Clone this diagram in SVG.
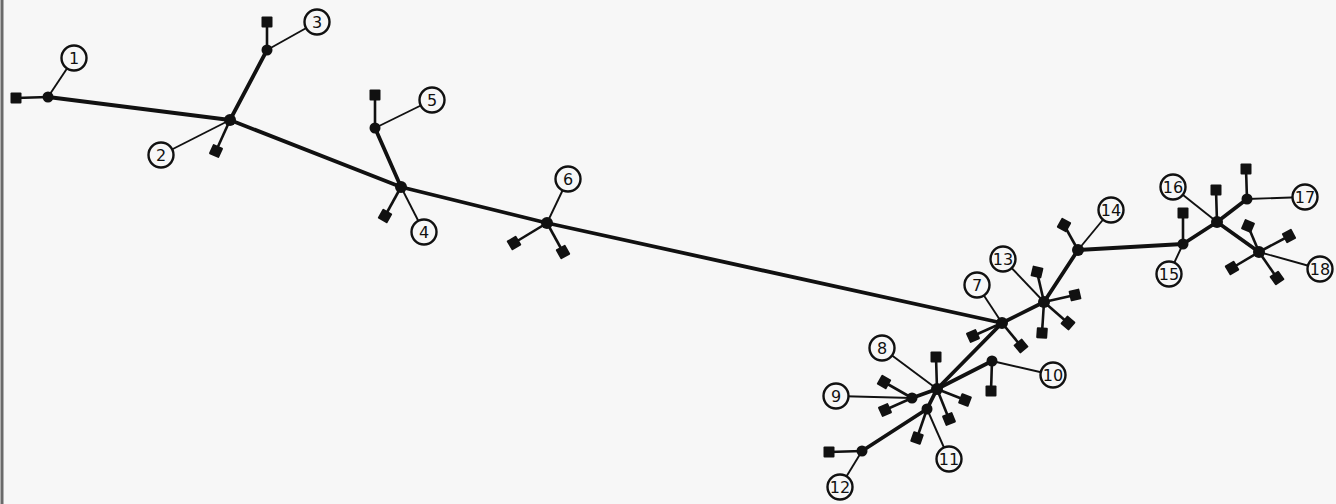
<svg xmlns="http://www.w3.org/2000/svg" xmlns:xlink="http://www.w3.org/1999/xlink" width="1336" height="504" viewBox="0 0 1336 504">
<style>
.bg{fill:#f7f7f7}
.edge{stroke:#6a6a6a;stroke-width:3}
.main{stroke:#111;stroke-width:3.8;stroke-linecap:round;stroke-linejoin:round;fill:none}
.stub{stroke:#111;stroke-width:2.6;fill:none}
.lead{stroke:#111;stroke-width:1.9;fill:none}
.dot{fill:#111}
.sqr{fill:#111}
.lab{fill:#f7f7f7;stroke:#111;stroke-width:2.4}
.num{font-family:"DejaVu Sans","Liberation Sans",sans-serif;font-size:16px;fill:#111;text-anchor:middle;dominant-baseline:central}
</style>
<defs>
<rect id="sq" x="-5.5" y="-5.5" width="11" height="11" rx="1"/>
</defs>
<rect class="bg" x="0" y="0" width="1336" height="504"/>
<line class="edge" x1="2" y1="0" x2="2" y2="504"/>

<g id="connectors">
<polyline class="main" points="48,97 230,120 401,187 547,223 1002,323"/>
<line class="main" x1="230" y1="120" x2="267" y2="50"/>
<line class="main" x1="401" y1="187" x2="375" y2="128"/>
<line class="main" x1="1002" y1="323" x2="937" y2="389"/>
<line class="main" x1="937" y1="389" x2="992" y2="361"/>
<line class="main" x1="937" y1="389" x2="912" y2="398"/>
<polyline class="main" points="937,389 927,409 862,451"/>
<polyline class="main" points="1002,323 1044,302 1078,250 1183,244 1217,222 1247,199"/>
<line class="main" x1="1217" y1="222" x2="1259" y2="252"/>
</g>

<g id="n1">
<line class="lead" x1="48" y1="97" x2="74" y2="58"/>
<line class="stub" x1="48" y1="97" x2="16" y2="98"/>
<use href="#sq" class="sqr" transform="translate(16,98)"/>
<circle class="dot" cx="48" cy="97" r="5.5"/>
<circle class="lab" cx="74" cy="58" r="12.5"/><text class="num" x="74" y="58">1</text>
</g>

<g id="n2">
<line class="lead" x1="230" y1="120" x2="161" y2="155"/>
<line class="stub" x1="230" y1="120" x2="216" y2="151"/>
<use href="#sq" class="sqr" transform="translate(216,151) rotate(24)"/>
<circle class="dot" cx="230" cy="120" r="6"/>
<circle class="lab" cx="161" cy="155" r="12.5"/><text class="num" x="161" y="155">2</text>
</g>

<g id="n3">
<line class="lead" x1="267" y1="50" x2="317" y2="22"/>
<line class="stub" x1="267" y1="50" x2="267" y2="22"/>
<use href="#sq" class="sqr" transform="translate(267,22)"/>
<circle class="dot" cx="267" cy="50" r="5.5"/>
<circle class="lab" cx="317" cy="22" r="12.5"/><text class="num" x="317" y="22">3</text>
</g>

<g id="n4">
<line class="lead" x1="401" y1="187" x2="424" y2="232"/>
<line class="stub" x1="401" y1="187" x2="385" y2="216"/>
<use href="#sq" class="sqr" transform="translate(385,216) rotate(30)"/>
<circle class="dot" cx="401" cy="187" r="6"/>
<circle class="lab" cx="424" cy="232" r="12.5"/><text class="num" x="424" y="232">4</text>
</g>

<g id="n5">
<line class="lead" x1="375" y1="128" x2="432" y2="100"/>
<line class="stub" x1="375" y1="128" x2="375" y2="95"/>
<use href="#sq" class="sqr" transform="translate(375,95)"/>
<circle class="dot" cx="375" cy="128" r="5.5"/>
<circle class="lab" cx="432" cy="100" r="12.5"/><text class="num" x="432" y="100">5</text>
</g>

<g id="n6">
<line class="lead" x1="547" y1="223" x2="568" y2="179"/>
<line class="stub" x1="547" y1="223" x2="514" y2="243"/>
<line class="stub" x1="547" y1="223" x2="563" y2="252"/>
<use href="#sq" class="sqr" transform="translate(514,243) rotate(-31)"/>
<use href="#sq" class="sqr" transform="translate(563,252) rotate(61)"/>
<circle class="dot" cx="547" cy="223" r="6"/>
<circle class="lab" cx="568" cy="179" r="12.5"/><text class="num" x="568" y="179">6</text>
</g>

<g id="n7">
<line class="lead" x1="1002" y1="323" x2="977" y2="285"/>
<line class="stub" x1="1002" y1="323" x2="973" y2="336"/>
<line class="stub" x1="1002" y1="323" x2="1021" y2="346"/>
<use href="#sq" class="sqr" transform="translate(973,336) rotate(-24)"/>
<use href="#sq" class="sqr" transform="translate(1021,346) rotate(50)"/>
<circle class="dot" cx="1002" cy="323" r="6"/>
<circle class="lab" cx="977" cy="285" r="12.5"/><text class="num" x="977" y="285">7</text>
</g>

<g id="n8">
<line class="lead" x1="937" y1="389" x2="882" y2="348"/>
<line class="stub" x1="937" y1="389" x2="936" y2="357"/>
<line class="stub" x1="937" y1="389" x2="965" y2="400"/>
<line class="stub" x1="937" y1="389" x2="949" y2="419"/>
<use href="#sq" class="sqr" transform="translate(936,357)"/>
<use href="#sq" class="sqr" transform="translate(965,400) rotate(21)"/>
<use href="#sq" class="sqr" transform="translate(949,419) rotate(68)"/>
<circle class="dot" cx="937" cy="389" r="6"/>
<circle class="lab" cx="882" cy="348" r="12.5"/><text class="num" x="882" y="348">8</text>
</g>

<g id="n9">
<line class="lead" x1="912" y1="398" x2="836" y2="396"/>
<line class="stub" x1="912" y1="398" x2="884" y2="382"/>
<line class="stub" x1="912" y1="398" x2="885" y2="410"/>
<use href="#sq" class="sqr" transform="translate(884,382) rotate(30)"/>
<use href="#sq" class="sqr" transform="translate(885,410) rotate(66)"/>
<circle class="dot" cx="912" cy="398" r="5.5"/>
<circle class="lab" cx="836" cy="396" r="12.5"/><text class="num" x="836" y="396">9</text>
</g>

<g id="n10">
<line class="lead" x1="992" y1="361" x2="1053" y2="375"/>
<line class="stub" x1="992" y1="361" x2="991" y2="391"/>
<use href="#sq" class="sqr" transform="translate(991,391)"/>
<circle class="dot" cx="992" cy="361" r="5.5"/>
<circle class="lab" cx="1053" cy="375" r="12.5"/><text class="num" x="1053" y="375">10</text>
</g>

<g id="n11">
<line class="lead" x1="927" y1="409" x2="949" y2="459"/>
<line class="stub" x1="927" y1="409" x2="917" y2="438"/>
<use href="#sq" class="sqr" transform="translate(917,438) rotate(19)"/>
<circle class="dot" cx="927" cy="409" r="5.5"/>
<circle class="lab" cx="949" cy="459" r="12.5"/><text class="num" x="949" y="459">11</text>
</g>

<g id="n12">
<line class="lead" x1="862" y1="451" x2="840" y2="487"/>
<line class="stub" x1="862" y1="451" x2="829" y2="452"/>
<use href="#sq" class="sqr" transform="translate(829,452)"/>
<circle class="dot" cx="862" cy="451" r="5.5"/>
<circle class="lab" cx="840" cy="487" r="12.5"/><text class="num" x="840" y="487">12</text>
</g>

<g id="n13">
<line class="lead" x1="1044" y1="302" x2="1003" y2="259"/>
<line class="stub" x1="1044" y1="302" x2="1037" y2="272"/>
<line class="stub" x1="1044" y1="302" x2="1075" y2="295"/>
<line class="stub" x1="1044" y1="302" x2="1068" y2="323"/>
<line class="stub" x1="1044" y1="302" x2="1042" y2="333"/>
<use href="#sq" class="sqr" transform="translate(1037,272) rotate(13)"/>
<use href="#sq" class="sqr" transform="translate(1075,295) rotate(-13)"/>
<use href="#sq" class="sqr" transform="translate(1068,323) rotate(41)"/>
<use href="#sq" class="sqr" transform="translate(1042,333) rotate(4)"/>
<circle class="dot" cx="1044" cy="302" r="6"/>
<circle class="lab" cx="1003" cy="259" r="12.5"/><text class="num" x="1003" y="259">13</text>
</g>

<g id="n14">
<line class="lead" x1="1078" y1="250" x2="1111" y2="210"/>
<line class="stub" x1="1078" y1="250" x2="1064" y2="225"/>
<use href="#sq" class="sqr" transform="translate(1064,225) rotate(29)"/>
<circle class="dot" cx="1078" cy="250" r="6"/>
<circle class="lab" cx="1111" cy="210" r="12.5"/><text class="num" x="1111" y="210">14</text>
</g>

<g id="n15">
<line class="lead" x1="1183" y1="244" x2="1169" y2="274"/>
<line class="stub" x1="1183" y1="244" x2="1183" y2="213"/>
<use href="#sq" class="sqr" transform="translate(1183,213)"/>
<circle class="dot" cx="1183" cy="244" r="5.5"/>
<circle class="lab" cx="1169" cy="274" r="12.5"/><text class="num" x="1169" y="274">15</text>
</g>

<g id="n16">
<line class="lead" x1="1217" y1="222" x2="1173" y2="187"/>
<line class="stub" x1="1217" y1="222" x2="1216" y2="190"/>
<use href="#sq" class="sqr" transform="translate(1216,190)"/>
<circle class="dot" cx="1217" cy="222" r="6"/>
<circle class="lab" cx="1173" cy="187" r="12.5"/><text class="num" x="1173" y="187">16</text>
</g>

<g id="n17">
<line class="lead" x1="1247" y1="199" x2="1305" y2="197"/>
<line class="stub" x1="1247" y1="199" x2="1246" y2="169"/>
<use href="#sq" class="sqr" transform="translate(1246,169)"/>
<circle class="dot" cx="1247" cy="199" r="5.5"/>
<circle class="lab" cx="1305" cy="197" r="12.5"/><text class="num" x="1305" y="197">17</text>
</g>

<g id="n18">
<line class="lead" x1="1259" y1="252" x2="1320" y2="269"/>
<line class="stub" x1="1259" y1="252" x2="1248" y2="226"/>
<line class="stub" x1="1259" y1="252" x2="1289" y2="236"/>
<line class="stub" x1="1259" y1="252" x2="1232" y2="268"/>
<line class="stub" x1="1259" y1="252" x2="1277" y2="278"/>
<use href="#sq" class="sqr" transform="translate(1248,226) rotate(23)"/>
<use href="#sq" class="sqr" transform="translate(1289,236) rotate(-28)"/>
<use href="#sq" class="sqr" transform="translate(1232,268) rotate(-31)"/>
<use href="#sq" class="sqr" transform="translate(1277,278) rotate(55)"/>
<circle class="dot" cx="1259" cy="252" r="6"/>
<circle class="lab" cx="1320" cy="269" r="12.5"/><text class="num" x="1320" y="269">18</text>
</g>
</svg>
